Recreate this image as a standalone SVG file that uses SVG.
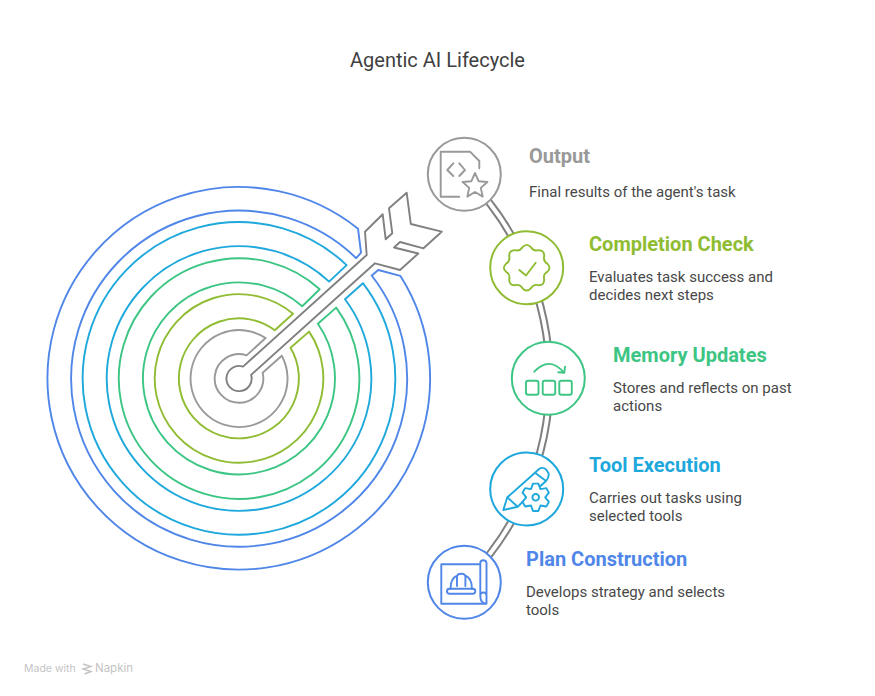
<svg xmlns="http://www.w3.org/2000/svg" width="875" height="696" viewBox="0 0 875 696">
<style>
text{font-family:Roboto,"Liberation Sans",sans-serif}
.title{font-size:20px;fill:#3f3f3f}
.h{font-size:20px;font-weight:700}
.b{font-size:15px;fill:#484848}
.o{fill:none;stroke-width:1.9;stroke-linejoin:round;stroke-linecap:round}
.n{fill:#fff;stroke-width:2}
.i{fill:none;stroke-width:1.9;stroke-linejoin:round;stroke-linecap:round}
.gy{stroke:#999}.li{stroke:#8fbc32}.gr{stroke:#3cc583}.cy{stroke:#1ea8dc}.bl{stroke:#4f86e8}
.ft{fill:#c4c4c4;font-family:Inter,"Liberation Sans",sans-serif}
</style>
<rect width="875" height="696" fill="#fff"/>
<text class="title" x="437.5" y="67" text-anchor="middle">Agentic AI Lifecycle</text>
<g id="connectors" fill="none" stroke="#808080" stroke-width="2">
<path d="M459.4 174A283.7 283.7 0 0 1 459.4 583.4"/>
<path d="M468 174A289.7 289.7 0 0 1 468 583.4"/>
</g>
<g id="target">
<path class="o bl" d="M358 228.7A191.3 191.3 0 1 0 400.3 275.8L378.3 270L371.7 275.5A168 168 0 1 1 356.2 258.2L361 252.7Z"/>
<path class="o cy" d="M346.6 265.1A156.3 156.3 0 1 0 362.9 283.2L345 299.3A132.3 132.3 0 1 1 329.1 281.6Z"/>
<path class="o gr" d="M319.7 289.3A120.3 120.3 0 1 0 336.2 307.6L317.9 323.8A96 96 0 1 1 302.2 306.2Z"/>
<path class="o li" d="M293 313.7A84.3 84.3 0 1 0 309.1 331.6L290.5 347.8A60 60 0 1 1 274.8 330.3Z"/>
<path class="o gy" d="M265.6 338A48.5 48.5 0 1 0 281.8 355.7L262.6 372.7A24.3 24.3 0 1 1 246.6 355.4Z"/>
<path id="arrow" fill="none" stroke="#808080" stroke-width="1.9" stroke-linejoin="round" d="M243 366.6A12.6 12.6 0 1 0 251.1 374.9L375 263.3L400 270L418.3 253.5L394 247.5L400 242L423.5 248.3L441.7 231.7L410.8 224L406.7 192.8L389 208.3L392.3 233.3L385.7 239.3L382.7 214.3L365 231.7L366.7 255Z"/>
</g>
<g id="node-output">
<circle class="n gy" cx="464.3" cy="174.3" r="36.5"/>
<path class="i gy" d="M459.3 196.7H440.7V151.7H470L479.3 161V168.3M453.3 163.3L447.3 170L453.3 176M459.3 163.3L465 170L459.3 176"/>
<path class="i gy" d="M475 173L478.6 181.2L487.4 182L480.8 187.9L482.7 196.6L475 192L467.3 196.6L469.2 187.9L462.6 182L471.4 181.2Z"/>
<text class="h" x="529" y="163" fill="#999">Output</text>
<text class="b" x="529" y="197">Final results of the agent's task</text>
</g>
<g id="node-completion">
<circle class="n li" cx="526.7" cy="267.7" r="36.5"/>
<path class="i li" transform="translate(526.7 267.7)" d="M-4.1-20.6Q0-25 4.1-20.6Q6.7-16.2 11.7-17.5Q17.7-17.7 17.5-11.7Q16.2-6.7 20.6-4.1Q25 0 20.6 4.1Q16.2 6.7 17.5 11.7Q17.7 17.7 11.7 17.5Q6.7 16.2 4.1 20.6Q0 25-4.1 20.6Q-6.7 16.2-11.7 17.5Q-17.7 17.7-17.5 11.7Q-16.2 6.7-20.6 4.1Q-25 0-20.6-4.1Q-16.2-6.7-17.5-11.7Q-17.7-17.7-11.7-17.5Q-6.7-16.2-4.1-20.6Z"/>
<path class="i li" d="M519.3 270L526 275.5L535.7 262.7"/>
<text class="h" x="589" y="251" fill="#8fbc32">Completion Check</text>
<text class="b" x="589" y="282">Evaluates task success and</text>
<text class="b" x="589" y="300">decides next steps</text>
</g>
<g id="node-memory">
<circle class="n gr" cx="548.3" cy="378.3" r="36.5"/>
<rect class="i gr" x="526" y="380.7" width="12.5" height="14" rx="2"/>
<rect class="i gr" x="542.7" y="380.7" width="12.5" height="14" rx="2"/>
<rect class="i gr" x="559.3" y="380.7" width="12.5" height="14" rx="2"/>
<path class="i gr" d="M534.3 371.7Q549.5 355.5 564 372.7M558.3 372.3L564.3 372.7L565 366.7"/>
<text class="h" x="613" y="362" fill="#3cc583">Memory Updates</text>
<text class="b" x="613" y="393">Stores and reflects on past</text>
<text class="b" x="613" y="411">actions</text>
</g>
<g id="node-tool">
<circle class="n cy" cx="526.7" cy="489" r="36.5"/>
<path class="i cy" d="M503.3 510L507.3 497.3L517.7 506.7ZM507.3 497.3L535 472.7L539 469Q543 466.5 546 469.5L548.5 473Q549.5 477 546 481L535 472.7M546 481L540 486.5M517.7 506.7L523 501.5"/>
<path class="i cy" transform="translate(535.7 497.3)" d="M-2.7-13.7H2.7L4.75-8.2L10.6-9.2L13.2-4.6L9.5 0L13.2 4.6L10.6 9.2L4.75 8.2L2.7 13.7H-2.7L-4.75 8.2L-10.6 9.2L-13.2 4.6L-9.5 0L-13.2-4.6L-10.6-9.2L-4.75-8.2Z"/>
<circle class="i cy" cx="535.7" cy="497.3" r="3.3"/>
<text class="h" x="589" y="472" fill="#1ea8dc">Tool Execution</text>
<text class="b" x="589" y="503">Carries out tasks using</text>
<text class="b" x="589" y="521">selected tools</text>
</g>
<g id="node-plan">
<circle class="n bl" cx="464.3" cy="582.3" r="36.5"/>
<path class="i bl" d="M480.3 564.3H441.3V603.7H486.5M480.3 595.5V563Q480.3 560.3 483.3 560.3T486.5 563V595.5Q486.5 592.5 483.4 592.5T480.3 595.5Q480.3 603.7 486.5 603.7V595.5"/>
<rect class="i bl" x="447" y="588.7" width="28.3" height="5" rx="2.5"/>
<path class="i bl" d="M450.5 588.7Q450.5 578 457.5 575.5M472 588.7Q472 578 465 575.5M457 586V577Q457 573.7 461.2 573.7T465.4 577V586"/>
<text class="h" x="526" y="566" fill="#4f86e8">Plan Construction</text>
<text class="b" x="526" y="597">Develops strategy and selects</text>
<text class="b" x="526" y="615">tools</text>
</g>
<g id="footer">
<text class="ft" x="24" y="672" font-size="10.5">Made with</text>
<path fill="none" stroke="#c4c4c4" stroke-width="1.4" d="M83 664L91 666.5L83 669L91 671.5L84.500 674"/>
<text class="ft" x="95" y="672" font-size="11.500">Napkin</text>
</g>
</svg>
